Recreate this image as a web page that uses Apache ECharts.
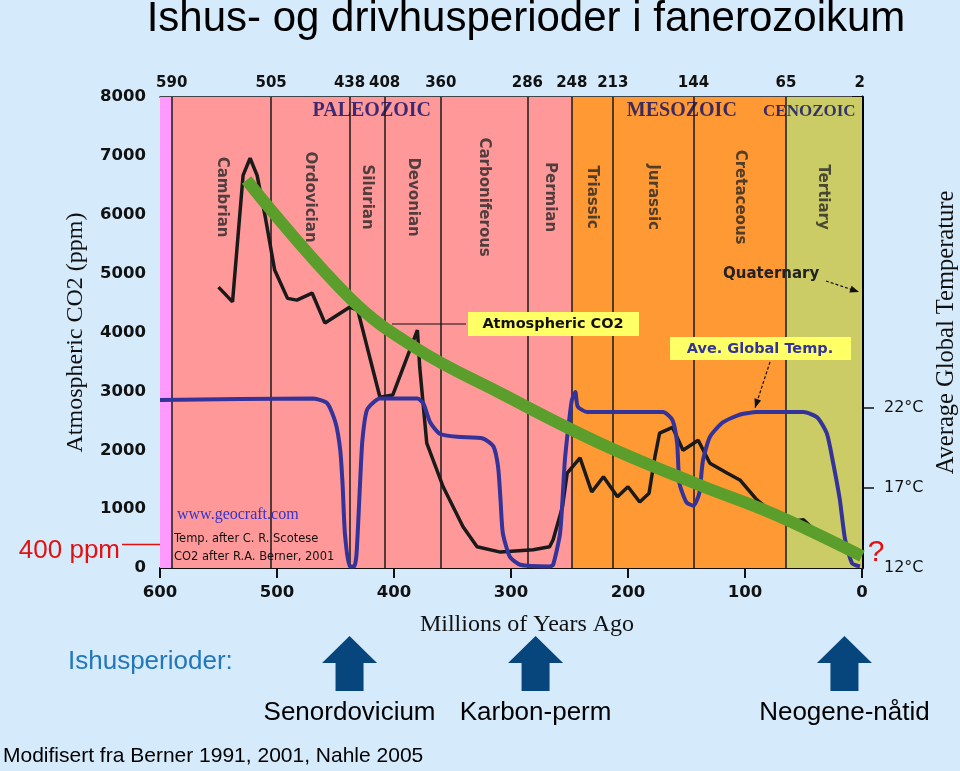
<!DOCTYPE html>
<html><head><meta charset="utf-8">
<script src="https://cdn.jsdelivr.net/npm/echarts@6/dist/echarts.min.js"></script>
<style>html,body{margin:0;padding:0;background:#d5eafb}#c{width:960px;height:771px}</style>
</head><body><div id="c"></div>
<script>
// ---------- data ----------
const boundaries = [590, 505, 438, 408, 360, 286, 248, 213, 144, 65, 2];
const periods = ['Cambrian','Ordovician','Silurian','Devonian','Carboniferous','Permian','Triassic','Jurassic','Cretaceous','Tertiary'];
const eraNames = ['PALEOZOIC','MESOZOIC','CENOZOIC'];
const eraStart = [590, 248, 65];
const eraEnd = [248, 65, 0];
const xTicks = [600, 500, 400, 300, 200, 100, 0];
const tempTicks = [12, 17, 22];

// Atmospheric CO2 (ppm), after Berner
const co2Age = [550,538,529,523,517,510,502,491,483,470,459,438,431,412,401,380,378,372,358,341,329,309,281,267,264,256,252,241,231,221,209,200,190,182,177,173,162,153,140,130,115,104,90,76,64,50,38];
const co2Ppm = [4770,4520,6670,6960,6670,5960,5060,4580,4550,4670,4160,4430,4380,2900,2940,4040,3410,2120,1380,700,360,270,310,360,480,1040,1610,1870,1290,1550,1210,1380,1120,1270,1890,2290,2390,2000,2170,1780,1610,1490,1160,930,780,820,590];

// Average global temperature (°C), after Scotese
const tempAge = [600,469,457,450,446,444,442,438,434,432,429,427,423,412,380,375,369,361,346,324,315,311,309,307,301,292,267,264,258,254,251,248,245,243,235,170,162,158,156,150,144,139,136,130,119,104,90,50,38,30,25,19,14.5,8.5,1.7];
const tempC = [22.5,22.6,22.3,21.1,19.4,17.3,14.2,12.1,12.1,12.9,17.3,20.0,21.9,22.6,22.6,22.3,21.1,20.4,20.2,20.1,19.6,18.3,16.3,14.2,12.7,12.2,12.1,12.2,14.2,18.7,20.8,22.5,23.0,22.1,21.75,21.75,21.25,19.8,17.3,16.1,15.9,16.7,18.7,20.2,21.1,21.6,21.75,21.75,21.4,20.4,18.7,16.3,13.8,12.3,12.1];

// green trend line (ppm)
const trendAge = [526,438,380,309,224,139,76,0];
const trendPpm = [6590,4590,3720,2970,2120,1410,920,200];

// ice-house periods
const iceAge = [438, 279, 15];
const iceNames = ['Senordovicium','Karbon-perm','Neogene-nåtid'];

// ---------- styles / layout ----------
const AX = "'DejaVu Sans', Verdana, sans-serif";
const SERIF = "'Liberation Serif', 'DejaVu Serif', serif";
const SANS = "'Liberation Sans', Arial, sans-serif";
const eraColor = {PALEOZOIC:'#ff9999', MESOZOIC:'#ff9933', CENOZOIC:'#cccc66'};
const eraFont = {PALEOZOIC:20, MESOZOIC:20, CENOZOIC:17};
const preColor = '#ff99ff';
const periodLabelY = 6300;
const eraLabelY = 7760;
const eraLabelAge = [419, 154, 45];

const chart = echarts.init(document.getElementById('c'));

const bands = [[{xAxis:600, itemStyle:{color:preColor}}, {xAxis:590}]];
eraNames.forEach((n,i)=>bands.push([{xAxis:eraStart[i], itemStyle:{color:eraColor[n]}}, {xAxis:eraEnd[i]}]));

const periodLabels = periods.map((p,i)=>({name:p, value:[(boundaries[i]+boundaries[i+1])/2, periodLabelY]}));
const eraLabels = eraNames.map((n,i)=>({name:n, value:[eraLabelAge[i], eraLabelY], label:{fontSize:eraFont[n]}}));

const boldAx = {color:'#111', fontFamily:AX, fontWeight:'bold', fontSize:16.5, formatter:v=>String(v)};

chart.setOption({
  backgroundColor:'#d5eafb',
  animation:false,
  grid:{left:160, right:98, top:97, bottom:203, containLabel:false, outerBoundsMode:'none'},
  xAxis:[
    {type:'value', min:0, max:600, inverse:true, interval:100, position:'bottom',
     axisLine:{show:true, onZero:false, lineStyle:{color:'#111', width:2}},
     axisTick:{show:true, length:10, lineStyle:{color:'#111', width:2}},
     axisLabel:Object.assign({}, boldAx, {margin:16, customValues:xTicks}),
     splitLine:{show:false}},
    {type:'value', min:0, max:600, inverse:true, position:'top',
     axisLine:{show:true, onZero:false, lineStyle:{color:'#111', width:1.5}},
     axisTick:{show:false},
     axisLabel:Object.assign({}, boldAx, {fontSize:15, margin:6, customValues:boundaries, hideOverlap:false}),
     splitLine:{show:false}}
  ],
  yAxis:[
    {type:'value', min:0, max:8000, interval:1000, position:'left',
     name:'Atmospheric CO2 (ppm)', nameLocation:'middle', nameGap:72, nameRotate:90,
     nameTextStyle:{fontFamily:SERIF, fontSize:24, color:'#111'},
     axisLine:{show:false}, axisTick:{show:true, length:10, lineStyle:{color:'#111', width:2}},
     axisLabel:Object.assign({}, boldAx, {margin:14}), splitLine:{show:false}},
    {type:'value', min:12, max:41.45, position:'right',
     name:'Average Global Temperature', nameLocation:'middle', nameGap:62, nameRotate:90,
     nameTextStyle:{fontFamily:SERIF, fontSize:24.5, color:'#111'},
     axisLine:{show:true, onZero:false, lineStyle:{color:'#000', width:3}},
     axisTick:{show:true, customValues:[17,22], length:12, lineStyle:{color:'#111', width:1.5}},
     axisLabel:{customValues:tempTicks, formatter:v=>v+'°C', fontFamily:AX, fontSize:16, color:'#111', margin:22},
     splitLine:{show:false}}
  ],
  series:[
    {type:'line', name:'bands', data:[], z:1, silent:true,
     markArea:{silent:true, data:bands},
     markLine:{silent:true, symbol:'none', label:{show:false},
       lineStyle:{color:'#1a1a1a', width:1.5, type:'solid'},
       data:boundaries.slice(0,-1).map(v=>({xAxis:v}))}},
    {type:'scatter', name:'periods', data:periodLabels, symbolSize:1, z:3, silent:true,
     itemStyle:{color:'rgba(0,0,0,0)'},
     label:{show:true, position:'inside', formatter:p=>p.name, rotate:-90, fontFamily:AX, fontWeight:'bold', fontSize:15, color:'#262626'}},
    {type:'scatter', name:'eras', data:eraLabels, symbolSize:1, z:3, silent:true,
     itemStyle:{color:'rgba(0,0,0,0)'},
     label:{show:true, position:'inside', formatter:p=>p.name, fontFamily:SERIF, fontWeight:'bold', fontSize:20, color:'#0c0c66'}},
    {type:'line', name:'CO2', data:co2Age.map((a,i)=>[a,co2Ppm[i]]), symbol:'none', z:4,
     lineStyle:{color:'#1a1a1a', width:3.5}},
    {type:'line', name:'Temp', yAxisIndex:1, data:tempAge.map((a,i)=>[a,tempC[i]]), symbol:'none', z:5, smooth:0.2,
     lineStyle:{color:'#333399', width:4}},
    {type:'line', name:'Trend', data:trendAge.map((a,i)=>[a,trendPpm[i]]), symbol:'none', z:6, smooth:0.4,
     lineStyle:{color:'#5c9e2c', width:12, cap:'butt'}}
  ]
});

// ---------- annotations ----------
const px = a => chart.convertToPixel({xAxisIndex:0}, a);
const py = v => chart.convertToPixel({yAxisIndex:0}, v);
const g = [];
function txt(text, x, y, font, fill, align, valign){
  g.push({type:'text', silent:true, z:20, style:{text, x, y, font, fill, textAlign:align||'left', textVerticalAlign:valign||'middle'}});
}
txt('Ishus- og drivhusperioder i fanerozoikum', 526, 19, "42px "+SANS, '#000', 'center');
txt('Millions of Years Ago', 527, 625, "24px "+SERIF, '#111', 'center');
txt('Ishusperioder:', 68, 662, "26px "+SANS, '#2277bb');
txt('Modifisert fra Berner 1991, 2001, Nahle 2005', 3, 756, "21px "+SANS, '#000');
iceAge.forEach((a,i)=>{
  const x = px(a), t = 636;
  g.push({type:'polygon', silent:true, z:20, shape:{points:[[x,t],[x+27.5,t+27],[x+14,t+27],[x+14,t+55],[x-14,t+55],[x-14,t+27],[x-27.5,t+27]]}, style:{fill:'#07467d'}});
  txt(iceNames[i], x, 713, "26px "+SANS, '#000', 'center');
});
// 400 ppm marker
const y400 = py(400);
txt('400 ppm', 120, 551, "26px "+SANS, '#e31010', 'right');
g.push({type:'line', silent:true, z:20, shape:{x1:122, y1:y400, x2:160, y2:y400}, style:{stroke:'#e31010', lineWidth:1.5}});
txt('?', 876, 553, "30px "+SANS, '#e31010', 'center');
// credits in plot
txt('www.geocraft.com', 177, 515, "16px "+SERIF, '#3333cc');
txt('Temp. after C. R. Scotese', 174, 539, "11.5px "+AX, '#111');
txt('CO2 after R.A. Berner, 2001', 174, 557, "11.5px "+AX, '#111');
// legend boxes
g.push({type:'rect', silent:true, z:20, shape:{x:468, y:312, width:171, height:24}, style:{fill:'#ffff66'}});
txt('Atmospheric CO2', 553, 324, "bold 14.5px "+AX, '#111', 'center');
g.push({type:'polyline', silent:true, z:20, shape:{points:[[392,324],[466,324]]}, style:{stroke:'#111', lineWidth:1.2, fill:null}});
g.push({type:'rect', silent:true, z:20, shape:{x:670, y:337, width:181, height:23}, style:{fill:'#ffff66'}});
txt('Ave. Global Temp.', 760, 349, "bold 14.5px "+AX, '#333399', 'center');
function dashArrow(x1,y1,x2,y2){
  g.push({type:'line', silent:true, z:20, shape:{x1,y1,x2,y2}, style:{stroke:'#111', lineWidth:1.2, lineDash:[3,2]}});
  const ang = Math.atan2(y2-y1, x2-x1), L=9, W=3.5;
  const bx = x2 - L*Math.cos(ang), by = y2 - L*Math.sin(ang);
  const nx = -Math.sin(ang)*W, ny = Math.cos(ang)*W;
  g.push({type:'polygon', silent:true, z:20, shape:{points:[[x2,y2],[bx+nx,by+ny],[bx-nx,by-ny]]}, style:{fill:'#111'}});
}
dashArrow(770, 362, 755, 408);
txt('Quaternary', 723, 274, "bold 15px "+AX, '#222');
dashArrow(826, 281, 859, 292);
chart.setOption({graphic:g});
</script></body></html>
